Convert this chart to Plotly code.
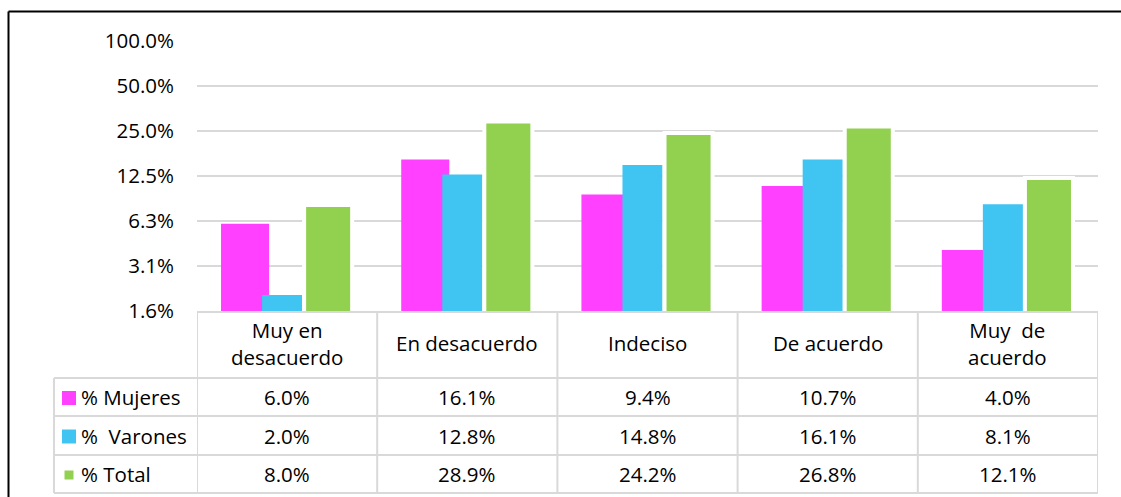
import plotly.graph_objects as go

categories = ["Muy en<br>desacuerdo", "En desacuerdo", "Indeciso", "De acuerdo", "Muy  de<br>acuerdo"]
series_names = ["% Mujeres", "%  Varones", "% Total"]
mujeres = [6.0, 16.1, 9.4, 10.7, 4.0]
varones = [2.0, 12.8, 14.8, 16.1, 8.1]
total = [8.0, 28.9, 24.2, 26.8, 12.1]
tick_vals = [1.5625, 3.125, 6.25, 12.5, 25, 50, 100]
tick_text = ["1.6%", "3.1%", "6.3%", "12.5%", "25.0%", "50.0%", "100.0%"]

colors = ["#FF40FF", "#40C4F2", "#92D050"]
FONT = "Open Sans"
FS = 20.5

W, H = 1121, 497
L, R, T, B = 197, 23, 41, 186
pw, ph = W - L - R, H - T - B

def py(Y):  # pixel y -> paper y
    return (H - B - Y) / ph

def px(X):
    return (X - L) / pw

x_idx = list(range(len(categories)))

fig = go.Figure()
fig.add_trace(go.Bar(x=x_idx, y=mujeres, name=series_names[0], marker_color=colors[0],
                     offset=-66/180, width=48/180, marker_line_width=0))
fig.add_trace(go.Bar(x=x_idx, y=varones, name=series_names[1], marker_color=colors[1],
                     offset=-25/180, width=40/180, marker_line_width=0))
fig.add_trace(go.Bar(x=x_idx, y=total, name=series_names[2], marker_color=colors[2],
                     offset=17/180, width=48/180, marker_line=dict(color="white", width=4)))

shapes = []
anns = []
grid = "#D9D9D9"
top, hdr, r1, r2, r3 = 312, 378, 416, 455, 493
left_tbl = 54
for yy in [hdr, r1, r2, r3]:
    shapes.append(dict(type="line", xref="paper", yref="paper", x0=px(left_tbl), x1=1,
                       y0=py(yy), y1=py(yy), line=dict(color=grid, width=2)))
shapes.append(dict(type="line", xref="paper", yref="paper", x0=0, x1=1, y0=py(top), y1=py(top),
                   line=dict(color=grid, width=2)))
for i in range(len(categories) + 1):
    shapes.append(dict(type="line", xref="x", yref="paper", x0=i - 0.5, x1=i - 0.5,
                       y0=py(top), y1=py(r3), line=dict(color=grid, width=2)))
shapes.append(dict(type="line", xref="paper", yref="paper", x0=px(left_tbl), x1=px(left_tbl),
                   y0=py(hdr), y1=py(r3), line=dict(color=grid, width=2)))

for i, c in enumerate(categories):
    anns.append(dict(x=i, y=py((top + hdr) / 2 - 2), xref="x", yref="paper", text=c,
                     showarrow=False, xanchor="center", yanchor="middle",
                     font=dict(family=FONT, size=FS, color="black")))

rows = [mujeres, varones, total]
row_bounds = [(hdr, r1), (r1, r2), (r2, r3)]
sq = [14, 14, 9]
for k, (vals, (a, b)) in enumerate(zip(rows, row_bounds)):
    yc = (a + b) / 2
    for i, v in enumerate(vals):
        anns.append(dict(x=i, y=py(yc), xref="x", yref="paper", text=f"{v:.1f}%",
                         showarrow=False, xanchor="center", yanchor="middle",
                         font=dict(family=FONT, size=FS, color="black")))
    anns.append(dict(x=px(79), y=py(yc), xref="paper", yref="paper", text=series_names[k],
                     showarrow=False, xanchor="left", yanchor="middle",
                     font=dict(family=FONT, size=FS, color="black")))
    s = sq[k]
    cx = 69
    shapes.append(dict(type="rect", xref="paper", yref="paper",
                       x0=px(cx - s / 2), x1=px(cx + s / 2), y0=py(yc - s / 2 + 1), y1=py(yc + s / 2 + 1),
                       fillcolor=colors[k], line=dict(width=0)))

# outer black frame (only left and top edges are visible in the image)
shapes.append(dict(type="line", xref="paper", yref="paper", x0=px(8.5), x1=px(8.5),
                   y0=py(11.5), y1=py(H), line=dict(color="black", width=2)))
shapes.append(dict(type="line", xref="paper", yref="paper", x0=px(8.5), x1=px(W),
                   y0=py(11.5), y1=py(11.5), line=dict(color="black", width=2)))

fig.update_layout(
    width=W, height=H,
    margin=dict(l=L, r=R, t=T, b=B),
    barmode="overlay",
    showlegend=False,
    plot_bgcolor="white", paper_bgcolor="white",
    shapes=shapes, annotations=anns,
    font=dict(family=FONT, size=FS, color="black"),
    xaxis=dict(range=[-0.5, 4.5], showticklabels=False, showgrid=False, zeroline=False,
               showline=False, ticks=""),
    yaxis=dict(type="log", range=[0.19382, 2.0], tickvals=tick_vals, ticktext=tick_text,
               showgrid=True, gridcolor=grid, gridwidth=1.5, zeroline=False, showline=False,
               ticks="", ticklabelstandoff=22, tickfont=dict(family=FONT, size=FS, color="black")),
)

fig.write_html(
    "out.html",
    config={"displayModeBar": False},
    post_script=("document.body.style.margin='0';"
                 "document.body.style.overflow='hidden';"
                 "document.documentElement.style.overflow='hidden';"),
)
